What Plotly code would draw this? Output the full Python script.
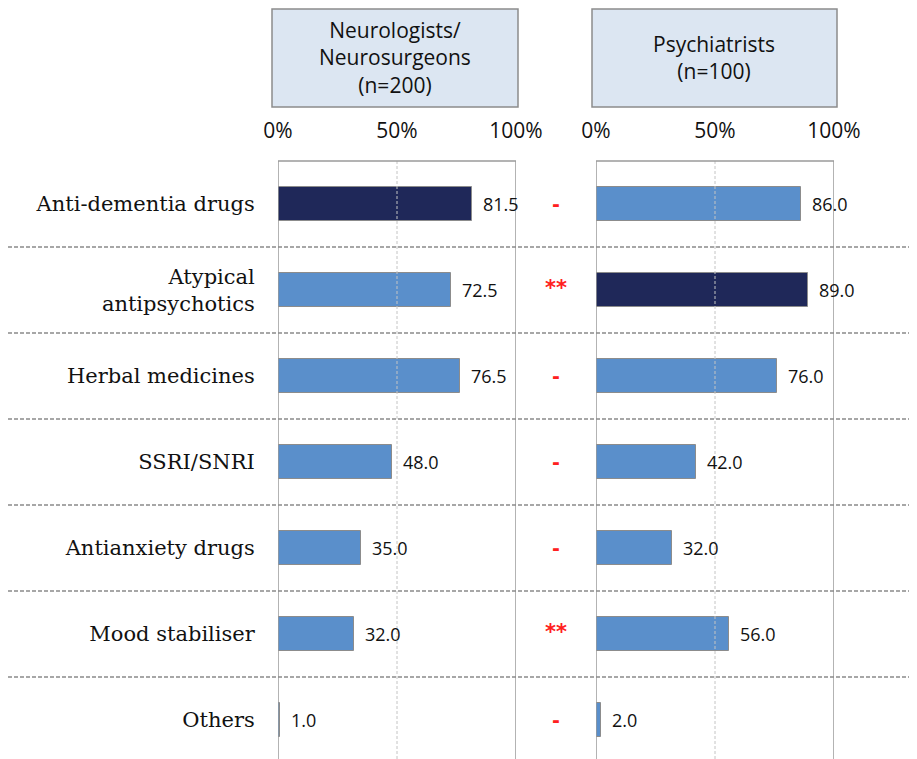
import plotly.graph_objects as go

categories = ["Anti-dementia drugs", "Atypical<br>antipsychotics", "Herbal medicines",
              "SSRI/SNRI", "Antianxiety drugs", "Mood stabiliser", "Others"]
neuro = [81.5, 72.5, 76.5, 48.0, 35.0, 32.0, 1.0]
psych = [86.0, 89.0, 76.0, 42.0, 32.0, 56.0, 2.0]
sig = ["-", "**", "-", "-", "-", "**", "-"]
neuro_title = "Neurologists/<br>Neurosurgeons<br>(n=200)"
psych_title = "Psychiatrists<br>(n=100)"
tick_vals = [0, 50, 100]
tick_text = ["0%", "50%", "100%"]

# page has an 8px body margin, so the figure is 8px smaller in each direction
W, H = 909, 751
DARK = "#1F2859"
LIGHT = "#5A8FCB"

def col(vals):
    m = max(vals)
    return [DARK if v == m else LIGHT for v in vals]

ypos = list(range(len(categories)))

fig = go.Figure()
fig.add_trace(go.Bar(x=neuro, y=ypos, orientation="h", xaxis="x", yaxis="y",
                     marker=dict(color=col(neuro), line=dict(color="#8C8C8C", width=1)),
                     width=0.4, showlegend=False))
fig.add_trace(go.Bar(x=psych, y=ypos, orientation="h", xaxis="x2", yaxis="y",
                     marker=dict(color=col(psych), line=dict(color="#8C8C8C", width=1)),
                     width=0.4, showlegend=False))

top_px, bot_px = 153, 751
ydom = [0, (H - top_px) / H]
row_px = 86.0
yr_bot = -0.5 + (bot_px - top_px) / row_px

xfont = dict(family="Open Sans", size=21, color="#111")
fig.update_layout(
    width=W, height=H, margin=dict(l=0, r=0, t=0, b=0, autoexpand=False),
    paper_bgcolor="white", plot_bgcolor="rgba(0,0,0,0)",
    bargap=0,
    xaxis=dict(domain=[270 / W, 508 / W], range=[0, 100], side="top", automargin=False,
               tickvals=tick_vals, ticktext=tick_text, showgrid=False, zeroline=False,
               ticks="outside", ticklen=14, tickcolor="rgba(0,0,0,0)", tickfont=xfont),
    xaxis2=dict(domain=[588 / W, 826 / W], range=[0, 100], side="top", anchor="y",
                automargin=False,
                tickvals=tick_vals, ticktext=tick_text, showgrid=False, zeroline=False,
                ticks="outside", ticklen=14, tickcolor="rgba(0,0,0,0)", tickfont=xfont),
    yaxis=dict(domain=ydom, range=[yr_bot, -0.5], tickvals=ypos, ticktext=categories,
               automargin=False,
               showgrid=False, zeroline=False, ticks="outside", ticklen=18,
               tickcolor="rgba(0,0,0,0)",
               tickfont=dict(family="DejaVu Serif", size=21, color="#111")),
)

shapes = []
for xr in ["x", "x2"]:
    for xv in [0, 100]:
        shapes.append(dict(type="line", xref=xr, yref="paper", x0=xv, x1=xv,
                           y0=0, y1=ydom[1], line=dict(color="#9A9A9A", width=1.5)))
    shapes.append(dict(type="line", xref=xr, yref="paper", x0=50, x1=50,
                       y0=0, y1=ydom[1], line=dict(color="#C4C4C4", width=1, dash="3px,2px")))
    shapes.append(dict(type="line", xref=xr, yref="paper", x0=0, x1=100,
                       y0=ydom[1], y1=ydom[1], line=dict(color="#9A9A9A", width=1.5)))
for i in range(len(categories) - 1):
    shapes.append(dict(type="line", xref="paper", yref="y", x0=0, x1=1,
                       y0=i + 0.5, y1=i + 0.5,
                       line=dict(color="#8A8A8A", width=1.5, dash="4px,2px")))
# header boxes
for (x0, x1) in [(264, 510), (584, 829)]:
    shapes.append(dict(type="rect", xref="paper", yref="paper",
                       x0=x0 / W, x1=x1 / W, y0=(H - 99) / H, y1=(H - 1) / H,
                       fillcolor="#DCE6F2", line=dict(color="#8C8C8C", width=1.5),
                       layer="below"))
fig.update_layout(shapes=shapes)

hfont = dict(family="Open Sans", size=21, color="#111")
ann = []
ann.append(dict(text=neuro_title, xref="paper", yref="paper", x=387 / W, y=(H - 50) / H,
                showarrow=False, font=hfont, xanchor="center", yanchor="middle"))
ann.append(dict(text=psych_title, xref="paper", yref="paper", x=706 / W, y=(H - 50) / H,
                showarrow=False, font=hfont, xanchor="center", yanchor="middle"))
dfont = dict(family="Open Sans", size=18, color="#111")
for i, v in enumerate(neuro):
    ann.append(dict(text=f"{v:.1f}", xref="x", yref="y", x=v, y=i, xanchor="left",
                    xshift=9, showarrow=False, font=dfont))
for i, v in enumerate(psych):
    ann.append(dict(text=f"{v:.1f}", xref="x2", yref="y", x=v, y=i, xanchor="left",
                    xshift=9, showarrow=False, font=dfont))
for i, s in enumerate(sig):
    ann.append(dict(text=f"<b>{s}</b>", xref="paper", yref="y", x=548 / W, y=i,
                    showarrow=False, xanchor="center",
                    yshift=2 if s == "**" else 0,
                    font=dict(family="DejaVu Sans", size=21 if s == "**" else 19,
                              color="#FF2020")))
fig.update_layout(annotations=ann)

fig.write_html("out.html")
